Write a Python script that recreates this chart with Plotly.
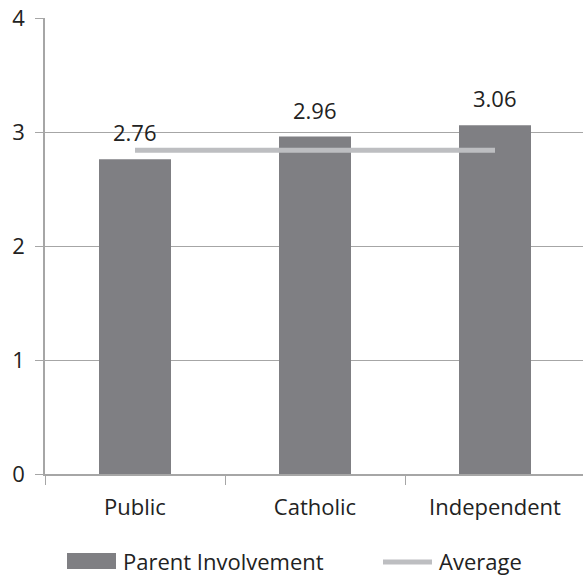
import plotly.graph_objects as go

# School sectors and mean parent-involvement scores
sectors = ["Public", "Catholic", "Independent"]
parent_involvement = [2.76, 2.96, 3.06]
average_score = [2.84, 2.84, 2.84]
y_ticks = [0, 1, 2, 3, 4]

BAR_COLOR = "#7f7f83"
AVG_COLOR = "#bdbec1"
AXIS_COLOR = "#a6a6a6"
TEXT_COLOR = "#222222"
FONT = "Open Sans"
FS = 22

W, H = 583, 577
ML, MR, MT, MB = 45, 0, 18, 103
plot_w = W - ML - MR
plot_h = H - MT - MB
px_per_cat = 180.0

fig = go.Figure()
fig.add_trace(go.Bar(
    x=sectors, y=parent_involvement, name="Parent Involvement",
    marker=dict(color=BAR_COLOR, line=dict(width=0)), width=0.4,
    showlegend=False,
))
fig.add_trace(go.Scatter(
    x=sectors, y=average_score, name="Average", mode="lines",
    line=dict(color=AVG_COLOR, width=5), showlegend=False,
))

# Value labels above each bar
for s, v in zip(sectors, parent_involvement):
    fig.add_annotation(
        x=s, y=v, text=f"{v:.2f}", showarrow=False, yanchor="middle",
        yshift=27, font=dict(family=FONT, size=FS, color=TEXT_COLOR),
    )

# Legend drawn below the axis
def px_x(p):
    return (p - ML) / plot_w

def px_y(p):
    return (MT + plot_h - p) / plot_h

fig.add_shape(type="rect", xref="paper", yref="paper",
              x0=px_x(67), x1=px_x(116), y0=px_y(569), y1=px_y(553),
              fillcolor=BAR_COLOR, line=dict(width=0))
fig.add_annotation(xref="paper", yref="paper", x=px_x(121), y=px_y(561),
                   xanchor="left", yanchor="middle", showarrow=False,
                   text="Parent Involvement",
                   font=dict(family=FONT, size=FS, color=TEXT_COLOR))
fig.add_shape(type="line", xref="paper", yref="paper",
              x0=px_x(383), x1=px_x(432), y0=px_y(562), y1=px_y(562),
              line=dict(color=AVG_COLOR, width=5))
fig.add_annotation(xref="paper", yref="paper", x=px_x(437), y=px_y(561),
                   xanchor="left", yanchor="middle", showarrow=False,
                   text="Average",
                   font=dict(family=FONT, size=FS, color=TEXT_COLOR))

fig.update_layout(
    width=W, height=H,
    margin=dict(l=ML, r=MR, t=MT, b=MB, pad=0),
    paper_bgcolor="white", plot_bgcolor="white",
    font=dict(family=FONT, size=FS, color=TEXT_COLOR),
    showlegend=False,
    xaxis=dict(
        type="category", range=[-0.5, -0.5 + plot_w / px_per_cat],
        showline=True, linecolor=AXIS_COLOR, linewidth=1.5,
        showgrid=False, ticks="outside", ticklen=9, tickcolor=AXIS_COLOR,
        tickson="boundaries", tickfont=dict(size=FS, color=TEXT_COLOR),
        ticklabelstandoff=13, zeroline=False,
    ),
    yaxis=dict(
        range=[0, 4], tickvals=y_ticks, showline=True, linecolor=AXIS_COLOR,
        linewidth=1.5, showgrid=True, gridcolor=AXIS_COLOR, gridwidth=1.2,
        ticks="outside", ticklen=8, tickcolor=AXIS_COLOR,
        tickfont=dict(size=FS, color=TEXT_COLOR), ticklabelstandoff=6,
        zeroline=False,
    ),
)

fig.write_html("out.html")
